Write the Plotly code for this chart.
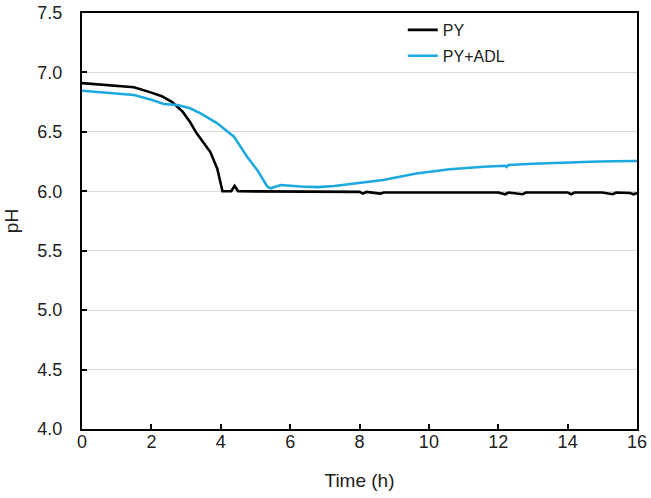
import plotly.graph_objects as go

py_time = [0, 0.5, 1.0, 1.5, 2.0, 2.3, 2.6, 2.9, 3.1, 3.3, 3.5, 3.7, 3.9, 4.05, 4.3, 4.4, 4.5,
           5.0, 6.0, 7.0, 8.0, 8.1, 8.2, 8.6, 8.7, 9.0, 10.0, 11.0, 12.0, 12.2, 12.3, 12.7, 12.8,
           13.0, 14.0, 14.1, 14.2, 15.0, 15.3, 15.4, 15.8, 15.9, 16.0]
py_ph = [6.91, 6.90, 6.89, 6.875, 6.83, 6.80, 6.75, 6.67, 6.59, 6.49, 6.41, 6.33, 6.19, 6.00, 6.00, 6.045, 6.00,
         6.00, 6.00, 5.995, 5.995, 5.98, 5.995, 5.98, 5.99, 5.99, 5.99, 5.99, 5.99, 5.975, 5.99, 5.975, 5.99,
         5.99, 5.99, 5.975, 5.99, 5.99, 5.975, 5.99, 5.985, 5.975, 5.985]

adl_time = [0, 0.5, 1.0, 1.5, 2.0, 2.36, 2.75, 3.1, 3.42, 3.9, 4.38, 4.76, 5.05, 5.34, 5.44, 5.73,
            6.3, 6.79, 7.27, 7.75, 8.23, 8.68, 9.64, 10.6, 11.57, 12.2, 12.24, 12.3, 13.0, 13.96,
            14.9, 15.9, 16.0]
adl_ph = [6.846, 6.836, 6.82, 6.81, 6.77, 6.735, 6.726, 6.70, 6.656, 6.572, 6.46, 6.29, 6.18, 6.04, 6.025, 6.053,
          6.04, 6.035, 6.045, 6.06, 6.08, 6.095, 6.15, 6.185, 6.207, 6.215, 6.205, 6.222, 6.232, 6.244,
          6.25, 6.255, 6.255]

y_ticks = [4.0, 4.5, 5.0, 5.5, 6.0, 6.5, 7.0, 7.5]
x_ticks = [0, 2, 4, 6, 8, 10, 12, 14, 16]

fig = go.Figure()
fig.add_trace(go.Scatter(x=py_time, y=py_ph, mode="lines", name="PY", legendgroup="a",
                         line=dict(color="black", width=2.6)))
fig.add_trace(go.Scatter(x=adl_time, y=adl_ph, mode="lines", name="PY+ADL", legendgroup="b",
                         line=dict(color="#1BA9DF", width=2.6)))

fig.update_layout(
    width=651, height=498,
    margin=dict(l=82, r=14, t=13, b=69),
    paper_bgcolor="white", plot_bgcolor="white",
    font=dict(family="Liberation Sans, Arial, sans-serif", size=18, color="#222222"),
    showlegend=True,
    legend=dict(x=0.578, y=1.0, xanchor="left", yanchor="top", bgcolor="rgba(0,0,0,0)",
                font=dict(size=16), traceorder="grouped", tracegroupgap=2, itemwidth=30),
    xaxis=dict(range=[0, 16], tickvals=x_ticks, ticktext=[str(v) for v in x_ticks],
               ticks="inside", ticklen=5, tickwidth=1.5, tickcolor="black",
               showline=True, linecolor="black", linewidth=2, mirror=True,
               showgrid=False, zeroline=False, automargin=False,
               ticklabelstandoff=-5,
               title=dict(text="Time (h)", font=dict(size=19), standoff=23)),
    yaxis=dict(range=[4.0, 7.5], tickvals=y_ticks, ticktext=[f"{v:.1f}" for v in y_ticks],
               ticks="inside", ticklen=5, tickwidth=1.5, tickcolor="black",
               showline=True, linecolor="black", linewidth=2, mirror=True,
               showgrid=True, gridcolor="#D9D9D9", gridwidth=1.2, zeroline=False,
               ticklabelstandoff=14, automargin=False,
               title=dict(text="pH", font=dict(size=19), standoff=14)),
)

fig.write_html("out.html", config={"displayModeBar": False},
               post_script="document.body.style.margin='0';document.body.style.padding='0';")
